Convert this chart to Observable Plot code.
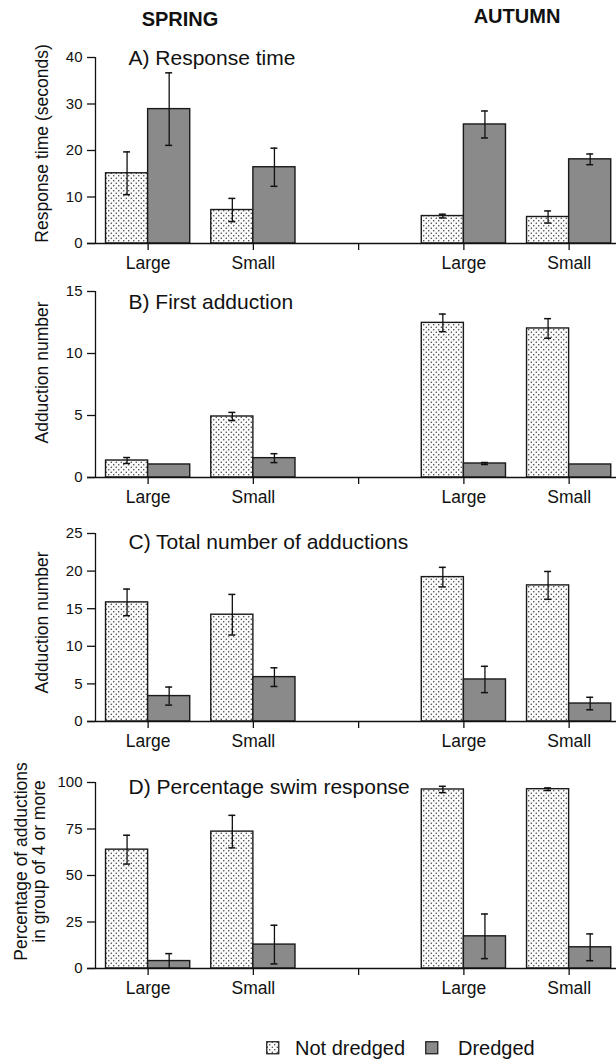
<!DOCTYPE html>
<html>
<head>
<meta charset="utf-8">
<script src="https://cdn.jsdelivr.net/npm/d3@7"></script>
<script src="https://cdn.jsdelivr.net/npm/@observablehq/plot@0.6"></script>
<style>
  body { margin: 0; background: #fff; }
  #wrap { position: relative; width: 616px; height: 1059px; font-family: "Liberation Sans", Arial, Helvetica, sans-serif; color: #111; overflow: hidden; }
  .hdr { position: absolute; font-weight: bold; font-size: 20px; transform: translate(-50%, -50%); white-space: nowrap; }
  .panel { position: absolute; left: 0; }
  .lg { position: absolute; font-size: 20px; line-height: 20px; white-space: nowrap; }
  .sw { position: absolute; }
</style>
</head>
<body>
<svg width="0" height="0" style="position:absolute">
  <defs>
    <pattern id="dots" width="5" height="5" patternUnits="userSpaceOnUse">
      <rect width="5" height="5" fill="#fbfbfb"></rect>
      <circle cx="1.25" cy="1.25" r="0.7" fill="#2a2a2a"></circle>
      <circle cx="3.75" cy="3.75" r="0.7" fill="#2a2a2a"></circle>
    </pattern>
  </defs>
</svg>
<div id="wrap">
  <div class="hdr" style="left:180px;top:19px">SPRING</div>
  <div class="hdr" style="left:517px;top:16px">AUTUMN</div>
  <svg class="sw" style="left:266px;top:1041px" width="14" height="14"><rect x="0.75" y="0.75" width="12" height="12" fill="url(#dots)" stroke="#222" stroke-width="1.3"></rect></svg>
  <div class="lg" style="left:295px;top:1038px">Not dredged</div>
  <svg class="sw" style="left:425px;top:1041px" width="14" height="14"><rect x="0.75" y="0.75" width="12" height="12" fill="#8a8a8a" stroke="#222" stroke-width="1.3"></rect></svg>
  <div class="lg" style="left:458px;top:1038px">Dredged</div>
</div>
<script>
// ---- data ----
const categories = ["Spring Large", "Spring Small", "", "Autumn Large", "Autumn Small"];
const tickLabels = ["Large", "Small", "", "Large", "Small"];
const groups = ["Spring Large", "Spring Small", "Autumn Large", "Autumn Small"];

// A) Response time (seconds)
const respNot = [15.1, 7.2, 5.9, 5.7];
const respNotErr = [4.6, 2.5, 0.4, 1.3];
const respDr = [28.9, 16.4, 25.6, 18.1];
const respDrErr = [7.8, 4.1, 2.9, 1.15];

// B) First adduction
const firstNot = [1.37, 4.92, 12.47, 12.02];
const firstNotErr = [0.24, 0.33, 0.71, 0.79];
const firstDr = [1.05, 1.56, 1.13, 1.05];
const firstDrErr = [0, 0.36, 0.08, 0];

// C) Total number of adductions
const totalNot = [15.84, 14.2, 19.2, 18.1];
const totalNotErr = [1.77, 2.7, 1.3, 1.85];
const totalDr = [3.38, 5.9, 5.59, 2.39];
const totalDrErr = [1.2, 1.24, 1.75, 0.83];

// D) Percentage swim response
const swimNot = [63.9, 73.6, 96.25, 96.4];
const swimNotErr = [7.75, 8.75, 1.7, 0.7];
const swimDr = [4.0, 12.86, 17.3, 11.4];
const swimDrErr = [4.0, 10.4, 12.0, 7.2];

const ticksA = [0, 10, 20, 30, 40];
const ticksB = [0, 5, 10, 15];
const ticksC = [0, 5, 10, 15, 20, 25];
const ticksD = [0, 25, 50, 75, 100];

// ---- layout / style options ----
const FONT = '"Liberation Sans", Arial, Helvetica, sans-serif';
const panels = [
  {title: "A) Response time", ylabel: "Response time (seconds)", domain: [0, 40], ticks: ticksA,
   nd: respNot, ndE: respNotErr, d: respDr, dE: respDrErr, top: 37, h: 186, titleDy: 1, labelDx: -53, labelDy: -7},
  {title: "B) First adduction", ylabel: "Adduction number", domain: [0, 15], ticks: ticksB,
   nd: firstNot, ndE: firstNotErr, d: firstDr, dE: firstDrErr, top: 271, h: 186, titleDy: 11, labelDx: -53, labelDy: -12},
  {title: "C) Total number of adductions", ylabel: "Adduction number", domain: [0, 25], ticks: ticksC,
   nd: totalNot, ndE: totalNotErr, d: totalDr, dE: totalDrErr, top: 513, h: 188, titleDy: 9, labelDx: -53, labelDy: -5},
  {title: "D) Percentage swim response", ylabel: "Percentage of adductions\nin group of 4 or more", domain: [0, 100], ticks: ticksD,
   nd: swimNot, ndE: swimNotErr, d: swimDr, dE: swimDrErr, top: 762, h: 186, titleDy: 5, labelDx: -65, labelDy: -14}
];

const BW = 0.4;      // bar width in band units
const CAP = 0.033;   // half cap width
const MT = 20, MB = 40;

function makePanel(p) {
  const notRows = groups.map((g, i) => ({x: categories.indexOf(g), v: p.nd[i], e: p.ndE[i]}));
  const drRows = groups.map((g, i) => ({x: categories.indexOf(g), v: p.d[i], e: p.dE[i]}));
  const errs = [
    ...notRows.filter(r => r.e > 0).map(r => ({c: r.x - BW / 2, lo: Math.max(0, r.v - r.e), hi: r.v + r.e})),
    ...drRows.filter(r => r.e > 0).map(r => ({c: r.x + BW / 2, lo: Math.max(0, r.v - r.e), hi: r.v + r.e}))
  ];
  return Plot.plot({
    width: 616,
    height: MT + p.h + MB,
    marginTop: MT, marginBottom: MB, marginLeft: 95, marginRight: 0,
    style: {fontFamily: FONT, fontSize: "15px", color: "#111", background: "transparent", overflow: "visible"},
    x: {domain: [-0.5, 4.45], axis: null},
    y: {domain: p.domain, axis: null},
    marks: [
      Plot.rect(notRows, {x1: r => r.x - BW, x2: "x", y1: 0, y2: "v", fill: "url(#dots)", stroke: "#1a1a1a", strokeWidth: 1.4}),
      Plot.rect(drRows, {x1: "x", x2: r => r.x + BW, y1: 0, y2: "v", fill: "#8a8a8a", stroke: "#1a1a1a", strokeWidth: 1.4}),
      Plot.ruleX(errs, {x: "c", y1: "lo", y2: "hi", stroke: "#111", strokeWidth: 1.3}),
      Plot.ruleY(errs, {x1: r => r.c - CAP, x2: r => r.c + CAP, y: "hi", stroke: "#111", strokeWidth: 1.5}),
      Plot.ruleY(errs.filter(r => r.lo > 0), {x1: r => r.c - CAP, x2: r => r.c + CAP, y: "lo", stroke: "#111", strokeWidth: 1.5}),
      Plot.ruleX([-0.5], {y1: p.domain[0], y2: p.domain[1], stroke: "#111", strokeWidth: 1.3}),
      Plot.ruleY([0], {insetLeft: -8, stroke: "#111", strokeWidth: 1.6}),
      Plot.axisY({ticks: p.ticks, tickSize: 8, tickPadding: 5, label: null, fontSize: 15, strokeWidth: 1.3}),
      Plot.axisX({ticks: [0, 1, 2, 3, 4], tickFormat: i => tickLabels[i], tickSize: 7, tickPadding: 6, label: null, fontSize: 17.5, strokeWidth: 1.3}),
      Plot.text([p.title], {frameAnchor: "top-left", dx: 33, dy: p.titleDy, textAnchor: "start", lineAnchor: "middle", fontSize: 21, fill: "#111"}),
      Plot.text([p.ylabel], {frameAnchor: "left", rotate: -90, dx: p.labelDx, dy: p.labelDy, textAnchor: "middle", lineAnchor: "middle", fontSize: 17.5, fill: "#111"})
    ]
  });
}

const wrap = document.getElementById("wrap");
panels.forEach(p => {
  const svg = makePanel(p);
  svg.classList.add("panel");
  svg.style.position = "absolute";
  svg.style.top = p.top + "px";
  svg.style.left = "0px";
  wrap.appendChild(svg);
});
</script>
</body>
</html>
